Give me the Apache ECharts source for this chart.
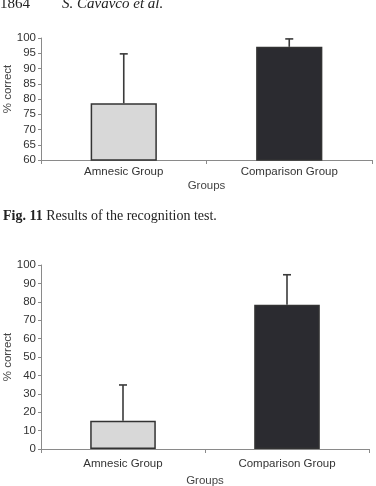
<!DOCTYPE html>
<html>
<head>
<meta charset="utf-8">
<script src="https://cdn.jsdelivr.net/npm/echarts@6/dist/echarts.min.js"></script>
<style>
html,body{margin:0;padding:0;background:#fff;}
#main{width:376px;height:486px;}
</style>
</head>
<body>
<div id="main"></div>
<script>
// ---- data ----
var categories = ['Amnesic Group', 'Comparison Group'];
// Chart 1 (top)
var top_values = [78.6, 97.1];
var top_errors = [16.2, 2.6];
var top_ticks = [60, 65, 70, 75, 80, 85, 90, 95, 100];
// Chart 2 (bottom) – recognition test
var bottom_values = [15.4, 78.4];
var bottom_errors = [19.4, 16.3];
var bottom_ticks = [0, 10, 20, 30, 40, 50, 60, 70, 80, 90, 100];

var headerPage = '1864';
var headerAuthor = 'S. Cavavco et al.';
var captionBold = 'Fig. 11';
var captionText = ' Results of the recognition test.';
var yName = '% correct';
var xName = 'Groups';

var barColors = ['#d8d8d8', '#2b2b30'];
var labelFont = 'Liberation Sans, Arial, sans-serif';
var serifFont = 'Liberation Serif, Times New Roman, serif';

function barData(vals) {
  return vals.map(function (v, i) {
    return { value: v, itemStyle: { color: barColors[i] } };
  });
}
function errData(vals, errs) {
  return vals.map(function (v, i) { return [i, v, v + errs[i]]; });
}
function renderErr(params, api) {
  var x = api.value(0);
  var p0 = api.coord([x, api.value(1)]);
  var p1 = api.coord([x, api.value(2)]);
  var cap = 4;
  return {
    type: 'group',
    children: [
      { type: 'line', shape: { x1: p0[0], y1: p0[1], x2: p1[0], y2: p1[1] },
        style: { stroke: '#3a3a3a', lineWidth: 1.6 } },
      { type: 'line', shape: { x1: p1[0] - cap, y1: p1[1], x2: p1[0] + cap, y2: p1[1] },
        style: { stroke: '#3a3a3a', lineWidth: 1.6 } }
    ]
  };
}
function xAxisCfg(gridIndex, margin, nameGap) {
  return {
    type: 'category', gridIndex: gridIndex, data: categories,
    name: xName, nameLocation: 'middle', nameGap: nameGap, nameMoveOverlap: false,
    nameTextStyle: { fontFamily: labelFont, fontSize: 11.5, color: '#444' },
    axisLine: { lineStyle: { color: '#8a8a8a', width: 1 } },
    axisTick: { show: true, length: 4, lineStyle: { color: '#8a8a8a' } },
    axisLabel: { fontFamily: labelFont, fontSize: 11.5, color: '#333', margin: margin }
  };
}
function yAxisCfg(gridIndex, ticks, namePad) {
  return {
    type: 'value', gridIndex: gridIndex,
    min: ticks[0], max: ticks[ticks.length - 1], interval: ticks[1] - ticks[0],
    name: yName, nameLocation: 'middle', nameGap: 27, nameMoveOverlap: false,
    nameTextStyle: { fontFamily: labelFont, fontSize: 11.5, color: '#444', padding: namePad },
    axisLine: { show: true, lineStyle: { color: '#8a8a8a', width: 1 } },
    axisTick: { show: true, length: 3, lineStyle: { color: '#8a8a8a' } },
    axisLabel: { fontFamily: labelFont, fontSize: 11.5, color: '#333', margin: 5 },
    splitLine: { show: false }
  };
}

var chart = echarts.init(document.getElementById('main'), null, { renderer: 'canvas' });
chart.setOption({
  animation: false,
  backgroundColor: '#fff',
  title: [
    { text: headerPage, left: 0, top: -3, padding: 0,
      textStyle: { fontFamily: serifFont, fontSize: 15, fontWeight: 'normal', color: '#222' } },
    { text: headerAuthor, left: 62, top: -3, padding: 0,
      textStyle: { fontFamily: serifFont, fontSize: 15, fontWeight: 'normal', fontStyle: 'italic', color: '#222' } },
    { text: '{b|' + captionBold + '}{r|' + captionText + '}', left: 3, top: 209, padding: 0,
      textStyle: { fontWeight: 'normal', rich: {
        b: { fontFamily: serifFont, fontSize: 14, fontWeight: 'bold', color: '#222' },
        r: { fontFamily: serifFont, fontSize: 14, fontWeight: 'normal', color: '#222' }
      } } }
  ],
  grid: [
    { left: 41, top: 38, width: 331, height: 122, outerBoundsMode: 'none', containLabel: false },
    { left: 41, top: 265, width: 328, height: 184, outerBoundsMode: 'none', containLabel: false }
  ],
  xAxis: [xAxisCfg(0, 6, 20), xAxisCfg(1, 9, 26)],
  yAxis: [yAxisCfg(0, top_ticks, [0, 0, 0, 20]), yAxisCfg(1, bottom_ticks, 0)],
  series: [
    { type: 'bar', xAxisIndex: 0, yAxisIndex: 0, data: barData(top_values), barWidth: '40%',
      itemStyle: { borderColor: '#333', borderWidth: 1.5 } },
    { type: 'custom', xAxisIndex: 0, yAxisIndex: 0, data: errData(top_values, top_errors),
      renderItem: renderErr, z: 3 },
    { type: 'bar', xAxisIndex: 1, yAxisIndex: 1, data: barData(bottom_values), barWidth: '40%',
      itemStyle: { borderColor: '#333', borderWidth: 1.5 } },
    { type: 'custom', xAxisIndex: 1, yAxisIndex: 1, data: errData(bottom_values, bottom_errors),
      renderItem: renderErr, z: 3 }
  ]
});
</script>
</body>
</html>
